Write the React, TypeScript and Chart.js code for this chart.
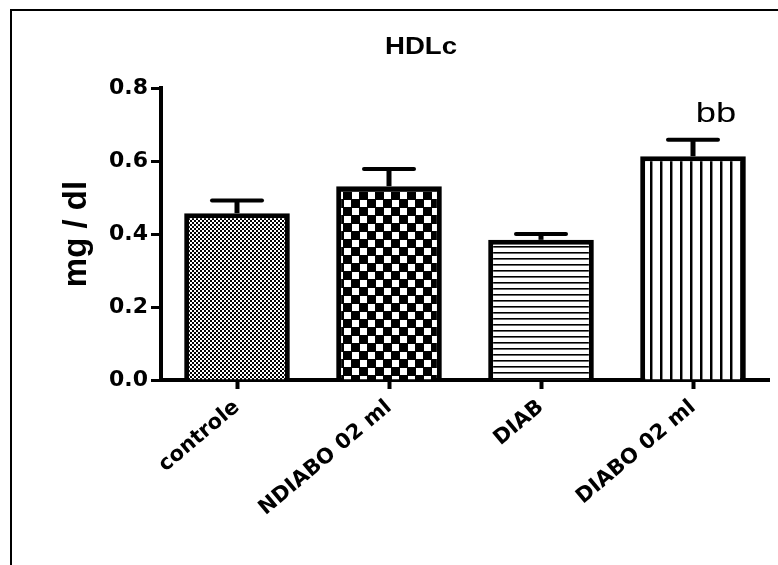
import React, { useEffect, useRef } from 'react';
import { Chart, registerables } from 'chart.js';

Chart.register(...registerables);

const categories = ['controle', 'NDIABO 02 ml', 'DIAB', 'DIABO 02 ml'];
const means = [0.457, 0.531, 0.384, 0.613];
const sems = [0.035, 0.047, 0.016, 0.045];
const marks = ['', '', '', 'bb'];
const patternKinds = ['fineCheck', 'bigCheck', 'hLines', 'vLines'];
const yTicks = [0, 0.2, 0.4, 0.6, 0.8];
const chartTitle = 'HDLc';
const yTitle = 'mg / dl';

function makePattern(kind: string): CanvasPattern | string {
  const c = document.createElement('canvas');
  let ctx: CanvasRenderingContext2D | null = null;
  if (kind === 'fineCheck') {
    c.width = 4; c.height = 4; ctx = c.getContext('2d')!;
    ctx.fillStyle = '#000'; ctx.fillRect(0, 0, 4, 4);
    ctx.fillStyle = '#fff'; ctx.fillRect(0, 0, 2, 2); ctx.fillRect(2, 2, 2, 2);
  } else if (kind === 'bigCheck') {
    c.width = 16; c.height = 16; ctx = c.getContext('2d')!;
    ctx.fillStyle = '#000'; ctx.fillRect(0, 0, 16, 16);
    ctx.fillStyle = '#fff'; ctx.fillRect(0, 0, 7, 7); ctx.fillRect(8, 8, 7, 7);
  } else if (kind === 'hLines') {
    c.width = 4; c.height = 6; ctx = c.getContext('2d')!;
    ctx.fillStyle = '#fff'; ctx.fillRect(0, 0, 4, 6);
    ctx.fillStyle = '#000'; ctx.fillRect(0, 0, 4, 1);
    ctx.fillStyle = '#666'; ctx.fillRect(0, 1, 4, 1);
  } else {
    c.width = 10; c.height = 4; ctx = c.getContext('2d')!;
    ctx.fillStyle = '#fff'; ctx.fillRect(0, 0, 10, 4);
    ctx.fillStyle = '#000'; ctx.fillRect(0, 0, 2, 4);
    ctx.fillStyle = '#888'; ctx.fillRect(2, 0, 1, 4);
  }
  return ctx.createPattern(c, 'repeat') || '#000';
}

function stretchedText(ctx: CanvasRenderingContext2D, text: string, x: number, y: number, font: string, sx: number, baseline: CanvasTextBaseline) {
  ctx.save();
  ctx.translate(x, y);
  ctx.scale(sx, 1);
  ctx.font = font;
  ctx.textAlign = 'center';
  ctx.textBaseline = baseline;
  ctx.fillText(text, 0, 0);
  ctx.restore();
}

const decorPlugin = {
  id: 'decor',
  beforeDraw(chart: any) {
    const ctx = chart.ctx;
    ctx.save();
    ctx.strokeStyle = '#000';
    ctx.lineWidth = 2;
    ctx.beginPath();
    ctx.moveTo(11, chart.height);
    ctx.lineTo(11, 10);
    ctx.lineTo(chart.width, 10);
    ctx.stroke();
    ctx.fillStyle = '#000';
    stretchedText(ctx, chartTitle, 421, 48, 'bold 23px "Liberation Sans", Arial, sans-serif', 1.2, 'middle');
    ctx.restore();
  },
  afterDatasetsDraw(chart: any) {
    const ctx = chart.ctx;
    const yScale = chart.scales.y;
    const meta = chart.getDatasetMeta(0);
    ctx.save();
    ctx.strokeStyle = '#000';
    ctx.fillStyle = '#000';
    meta.data.forEach((bar: any, i: number) => {
      const top = yScale.getPixelForValue(means[i]);
      const capY = yScale.getPixelForValue(means[i] + sems[i]);
      ctx.lineWidth = 5;
      ctx.lineCap = 'butt';
      ctx.beginPath();
      ctx.moveTo(bar.x, top);
      ctx.lineTo(bar.x, capY);
      ctx.stroke();
      ctx.lineWidth = 4;
      ctx.lineCap = 'round';
      ctx.beginPath();
      ctx.moveTo(bar.x - 25, capY);
      ctx.lineTo(bar.x + 25, capY);
      ctx.stroke();
      if (marks[i]) {
        stretchedText(ctx, marks[i], bar.x + 23, capY - 18, '28px "Liberation Sans", Arial, sans-serif', 1.3, 'alphabetic');
      }
    });
    ctx.restore();
  },
};

export default function App() {
  const ref = useRef<HTMLCanvasElement | null>(null);
  useEffect(() => {
    if (!ref.current) return;
    const patterns = patternKinds.map(makePattern);
    const chart = new Chart(ref.current, {
      type: 'bar',
      data: {
        labels: categories,
        datasets: [
          {
            data: means,
            backgroundColor: patterns as any,
            borderColor: '#000',
            borderWidth: 5,
            barPercentage: 0.695,
            categoryPercentage: 1,
          },
        ],
      },
      options: {
        responsive: false,
        animation: false,
        events: [],
        layout: { padding: { left: 0, right: 9, top: 88, bottom: 0 } },
        plugins: { legend: { display: false }, tooltip: { enabled: false }, title: { display: false } },
        scales: {
          x: {
            z: 1,
            grid: { display: true, drawOnChartArea: false, drawTicks: true, tickLength: 9, tickWidth: 4, tickColor: '#000', offset: false },
            border: { display: true, color: '#000', width: 4 },
            ticks: {
              color: '#000',
              font: { family: 'DejaVu Sans', weight: 'bold', size: 21 },
              minRotation: 40,
              maxRotation: 40,
              autoSkip: false,
              padding: 6,
            },
            afterFit: (s: any) => { s.height = 185; },
          },
          y: {
            z: 1,
            min: 0,
            max: 0.8,
            afterBuildTicks: (s: any) => { s.ticks = yTicks.map((v) => ({ value: v })); },
            ticks: {
              color: '#000',
              font: { family: 'DejaVu Sans', weight: 'bold', size: 22 },
              padding: 3,
              callback: (v: any) => Number(v).toFixed(1),
            },
            grid: { display: true, drawOnChartArea: false, drawTicks: true, tickLength: 10, tickWidth: 3, tickColor: '#000' },
            border: { display: true, color: '#000', width: 4 },
            title: {
              display: true,
              text: yTitle,
              color: '#000',
              font: { family: 'Liberation Sans', weight: 'bold', size: 33, lineHeight: 1.2 },
              padding: { top: 57, bottom: 0 },
            },
            afterFit: (s: any) => { s.width = 161; },
          },
        },
      },
      plugins: [decorPlugin],
    });
    return () => chart.destroy();
  }, []);
  return (
    <div style={{ position: 'fixed', left: 0, top: 0, width: 778, height: 565, background: '#fff' }}>
      <canvas ref={ref} width={778} height={565} />
    </div>
  );
}
